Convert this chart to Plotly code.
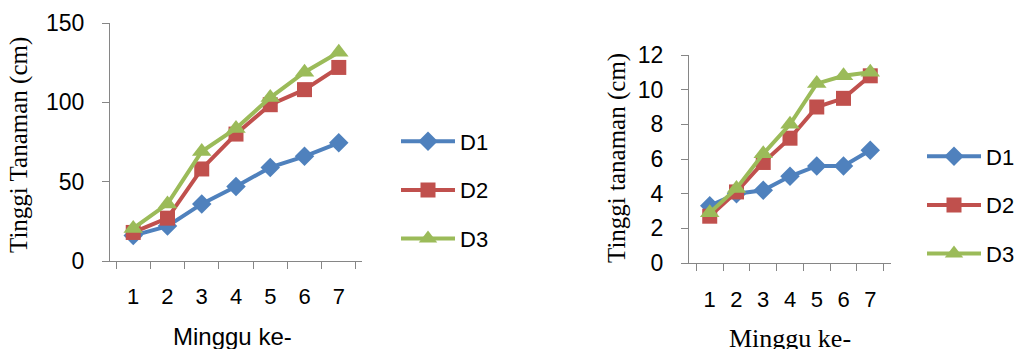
import plotly.graph_objects as go

weeks = ["1", "2", "3", "4", "5", "6", "7"]
series_names = ["D1", "D2", "D3"]

# Left chart: Tinggi Tanaman (cm)
left_d1 = [16, 22, 36, 47, 59, 66, 74.5]
left_d2 = [18, 27, 58, 80, 98.5, 108, 122]
left_d3 = [20.5, 36, 69, 83.5, 103, 119, 131.5]

# Right chart: Tinggi tanaman (cm)
right_d1 = [3.3, 4.0, 4.2, 5.0, 5.6, 5.6, 6.5]
right_d2 = [2.7, 4.1, 5.8, 7.2, 9.0, 9.5, 10.8]
right_d3 = [2.9, 4.3, 6.3, 8.0, 10.35, 10.8, 11.0]

colors = ["#4F81BD", "#C0504D", "#9BBB59"]
symbols = ["diamond", "square", "triangle-up"]
msizes = [15, 15, 17]

W, H = 1019, 349
SANS = "Liberation Sans"
SERIF = "Liberation Serif"
AX = "#868686"

fig = go.Figure()

for i, (name, vals) in enumerate(zip(series_names, [left_d1, left_d2, left_d3])):
    fig.add_trace(go.Scatter(
        x=weeks, y=vals, name=name, mode="lines+markers",
        line=dict(color=colors[i], width=4),
        marker=dict(symbol=symbols[i], size=msizes[i], color=colors[i]),
        xaxis="x", yaxis="y", legend="legend", legendgroup="L" + name,
        cliponaxis=False,
    ))

for i, (name, vals) in enumerate(zip(series_names, [right_d1, right_d2, right_d3])):
    fig.add_trace(go.Scatter(
        x=weeks, y=vals, name=name, mode="lines+markers",
        line=dict(color=colors[i], width=4),
        marker=dict(symbol=symbols[i], size=msizes[i], color=colors[i]),
        xaxis="x2", yaxis="y2", legend="legend2", legendgroup="R" + name,
        cliponaxis=False,
    ))

def xax(domain, anchor, standoff):
    return dict(
        domain=domain, anchor=anchor, type="category", tickson="boundaries",
        tickmode="array", tickvals=weeks, ticktext=weeks,
        ticks="outside", ticklen=7, tickcolor=AX, showline=True, linecolor=AX,
        linewidth=1, showgrid=False, zeroline=False, ticklabelstandoff=standoff,
        automargin=False,
        tickfont=dict(family=SANS, size=22, color="#000"),
    )

def yax(domain, anchor, rng, dtick):
    return dict(
        domain=domain, anchor=anchor, range=rng, dtick=dtick,
        ticks="outside", ticklen=7, tickcolor=AX, showline=True, linecolor=AX,
        linewidth=1, showgrid=False, zeroline=False, ticklabelstandoff=13,
        automargin=False,
        tickfont=dict(family=SANS, size=23, color="#000"),
    )

legend_common = dict(
    font=dict(family=SANS, size=22, color="#000"),
    bgcolor="rgba(0,0,0,0)", itemwidth=54, tracegroupgap=17,
    xanchor="left", yanchor="middle", traceorder="grouped",
)

fig.update_layout(
    width=W, height=H,
    margin=dict(l=0, r=0, t=0, b=0, autoexpand=False),
    paper_bgcolor="white", plot_bgcolor="white",
    xaxis=xax([110 / W, 362 / W], "y", 16),
    yaxis=yax([1 - 261 / H, 1 - 23 / H], "x", [0, 150], 50),
    xaxis2=xax([689 / W, 891 / W], "y2", 17),
    yaxis2=yax([1 - 263 / H, 1 - 55 / H], "x2", [0, 12], 2),
    legend=dict(x=396 / W, y=1 - 190 / H, **legend_common),
    legend2=dict(x=922 / W, y=1 - 205 / H, **legend_common),
    annotations=[
        dict(text="Tinggi Tanaman (cm)", textangle=-90, x=19 / W, y=1 - 145 / H,
             xref="paper", yref="paper", showarrow=False, xanchor="center", yanchor="middle",
             font=dict(family=SERIF, size=25, color="#000")),
        dict(text="Minggu ke-", x=232 / W, y=1 - 321 / H,
             xref="paper", yref="paper", showarrow=False, xanchor="center", yanchor="top",
             font=dict(family=SANS, size=24, color="#000")),
        dict(text="Tinggi tanaman (cm)", textangle=-90, x=617 / W, y=1 - 158 / H,
             xref="paper", yref="paper", showarrow=False, xanchor="center", yanchor="middle",
             font=dict(family=SERIF, size=25, color="#000")),
        dict(text="Minggu ke-", x=790 / W, y=1 - 322 / H,
             xref="paper", yref="paper", showarrow=False, xanchor="center", yanchor="top",
             font=dict(family=SERIF, size=26, color="#000")),
    ],
)

fig.write_html(
    "out.html",
    config={"displayModeBar": False},
    post_script="document.body.style.margin='0';document.body.style.overflow='hidden';",
)
